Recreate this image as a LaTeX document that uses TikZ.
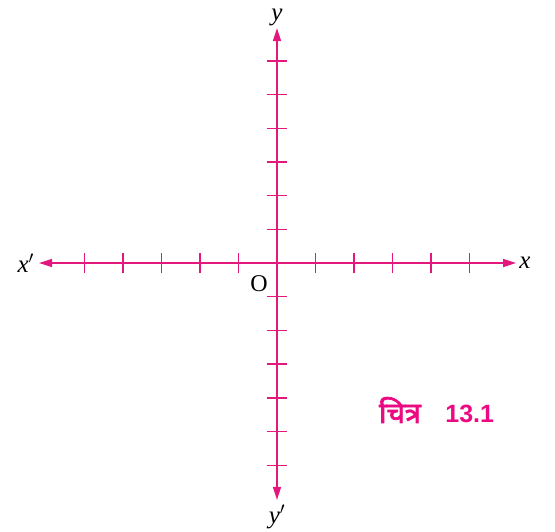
\documentclass[tikz,border=0pt]{standalone}
\usepackage{fontspec}
\usepackage{tikz}
\setmainfont{Liberation Serif}
\newfontfamily\devfont[Script=Devanagari, FakeBold=2.5]{Noto Sans}
\newfontfamily\capsans{Liberation Sans}
\usetikzlibrary{arrows.meta,positioning}
\definecolor{axispink}{HTML}{E3187D}
\definecolor{captionpink}{HTML}{EC0A82}

\begin{document}
\begin{tikzpicture}[x=38.5pt, y=33.7pt, >={Triangle[length=13pt, width=8pt]}]
\tikzstyle{axis}=[draw=axispink, line width=1.4pt]
\tikzstyle{tickmark}=[draw=axispink, line width=1.4pt]
\tikzstyle{lbl}=[inner sep=0pt, font=\fontsize{25}{27}\selectfont]
\tikzstyle{caption}=[inner sep=0pt, text=captionpink, font=\fontsize{25}{28}\selectfont\bfseries]
\useasboundingbox (-277pt,-268pt) rectangle (278pt,263pt);
\coordinate (O) at (0,0);
\coordinate (xl) at (-6.18,0);
\coordinate (xr) at (6.21,0);
\coordinate (yt) at (0,6.97);
\coordinate (yb) at (0,-7.03);
\draw[axis, <->] (xl) -- (xr);
\draw[axis, <->] (yt) -- (yb);
% tick marks
\foreach \i in {-5,...,5}
  \draw[tickmark] (\i,0) ++(0,-10pt) -- ++(0,20pt);
\foreach \j in {-6,...,6}
  \draw[tickmark] (0,\j) ++(-10pt,0) -- ++(20pt,0);
% labels
\node[lbl, left=5pt of xl] (xlabel') {\textit{x}$'$};
\node[lbl, right=3pt of xr] (xlabel) {\textit{x}};
\node[lbl, above=2pt of yt] (ylabel) {\textit{y}};
\node[lbl, below=5pt of yb] (ylabel') {\textit{y}$'$};
\node[inner sep=0pt, font=\fontsize{24}{26}\selectfont, below left=12pt and 9pt of O] (olabel) {O};
\node[caption] (fig) at (123pt,-147pt) {\fontsize{29}{30}\selectfont\devfont चित्र};
\node[caption, base right=24pt of fig] (num) {\capsans 13.1};
\end{tikzpicture}
\end{document}
